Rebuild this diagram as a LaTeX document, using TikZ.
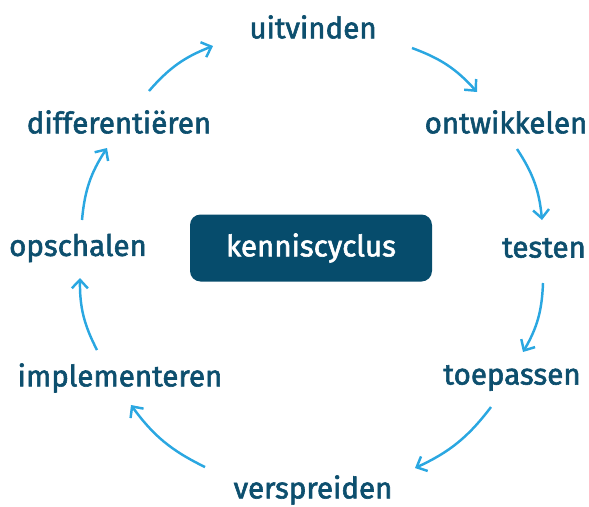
\documentclass[tikz,border=0pt]{standalone}
\usepackage{fontspec}
\setmainfont{Fira Sans}[FakeBold=2]
\usepackage{tikz}
\usetikzlibrary{calc, positioning, arrows.meta, shapes}
\definecolor{tekst}{HTML}{0D4F6E}
\definecolor{blok}{HTML}{064C6C}
\definecolor{pijl}{HTML}{2AA7E1}

\begin{document}
\begin{tikzpicture}[stap/.style={text=tekst, font=\fontsize{16.8}{19}\selectfont, inner sep=0pt},cyc/.style={pijl, line width=1.4pt, -{Straight Barb[length=1.7mm, width=3.2mm, line width=1.4pt]}, bend left=14},kern/.style={fill=blok, text=white, rounded corners=6pt, minimum width=4.84cm, minimum height=1.34cm, font=\fontsize{16.8}{19}\selectfont}]
  \useasboundingbox (0,0) rectangle (11.78,-10.12);

  \node[kern] (kc) at (6.22,-4.96) {kenniscyclus};

  \node[stap] (uit) at (6.26,-0.54) {uitvinden};
  \node[stap] (ont) at (10.12,-2.44) {ontwikkelen};
  \node[stap] (tes) at (10.88,-4.96) {testen};
  \node[stap] (toe) at (10.24,-7.56) {toepassen};
  \node[stap] (ver) at (6.26,-9.80) {verspreiden};
  \node[stap] (imp) at (2.40,-7.56) {implementeren};
  \node[stap] (ops) at (1.56,-4.96) {opschalen};
  \node[stap] (dif) at (2.38,-2.44) {differentiëren};

  \draw[cyc] ([shift={(0.60,0.62)}]dif.center) to ([shift={(-2.00,-0.38)}]uit.center);
  \draw[cyc] ([shift={(1.98,-0.42)}]uit.center) to ([shift={(-0.58,0.60)}]ont.center);
  \draw[cyc] ([shift={(0.22,-0.54)}]ont.center) to ([shift={(-0.04,0.56)}]tes.center);
  \draw[cyc] ([shift={(-0.02,-0.70)}]tes.center) to ([shift={(0.22,0.52)}]toe.center);
  \draw[cyc] ([shift={(-0.42,-0.58)}]toe.center) to ([shift={(2.04,0.44)}]ver.center);
  \draw[cyc] ([shift={(-2.16,0.46)}]ver.center) to ([shift={(0.22,-0.54)}]imp.center);
  \draw[cyc] ([shift={(-0.46,0.56)}]imp.center) to ([shift={(0.04,-0.60)}]ops.center);
  \draw[cyc] ([shift={(0.08,0.56)}]ops.center) to ([shift={(-0.24,-0.52)}]dif.center);
\end{tikzpicture}
\end{document}
